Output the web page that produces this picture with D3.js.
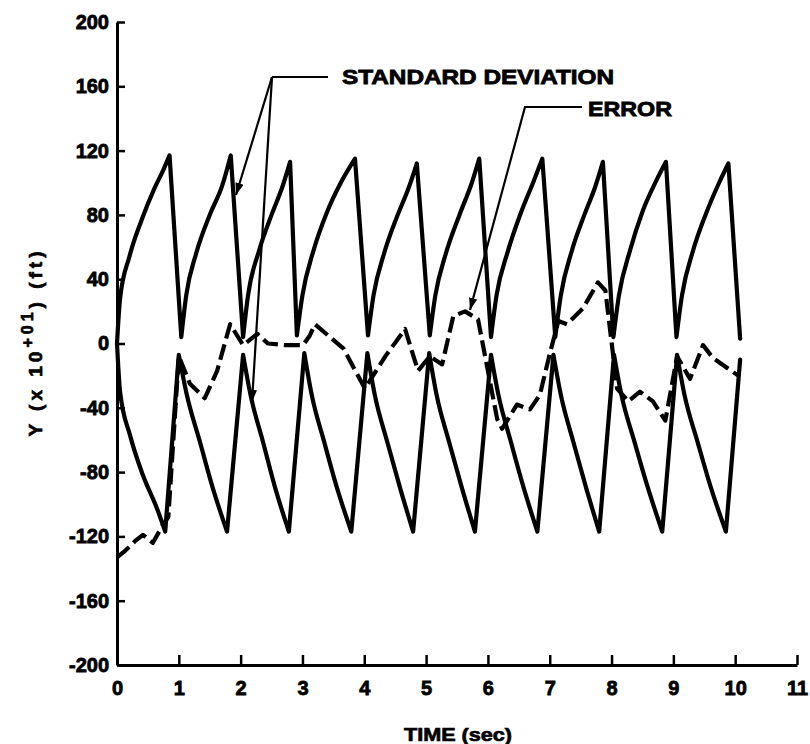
<!DOCTYPE html>
<html>
<head>
<meta charset="utf-8">
<script src="https://cdn.jsdelivr.net/npm/d3@7"></script>
<style>
  html, body { margin: 0; padding: 0; background: #fff; }
  svg { display: block; }
  text { font-family: "Liberation Sans", Arial, sans-serif; font-weight: bold; fill: #000; }
</style>
</head>
<body>
<svg id="chart" width="810" height="744"></svg>
<script>
// ---- data ----
const xTicks = [0, 1, 2, 3, 4, 5, 6, 7, 8, 9, 10, 11];
const yTicks = [-200, -160, -120, -80, -40, 0, 40, 80, 120, 160, 200];

const sdUpperT = [0.00,0.05,0.20,0.40,0.60,0.75,0.85, 1.04,1.12,1.28,1.50,1.70,1.84, 2.04,2.12,2.30,2.50,2.68,2.80,
  2.91,3.00,3.18,3.40,3.62,3.85, 4.06,4.15,4.32,4.52,4.72,4.85, 5.06,5.15,5.32,5.54,5.74,5.86,
  6.05,6.14,6.32,6.54,6.74,6.88, 7.09,7.18,7.36,7.56,7.74,7.86, 8.03,8.12,8.30,8.50,8.72,8.88,
  9.05,9.14,9.32,9.52,9.74,9.89, 10.08];
const sdUpperV = [0,28,54,77,96,108,117, 4,30,56,80,98,117, 4,30,58,80,98,113,
  5,30,58,82,100,115, 5,30,56,78,97,112, 5,30,56,80,100,115,
  4,30,57,82,101,115, 4,30,58,80,98,113, 4,30,58,82,101,113,
  4,30,58,80,100,112, 3];

const sdLowerT = [0.00,0.05,0.21,0.42,0.65,0.78, 1.00,1.13,1.34,1.55,1.78, 2.04,2.16,2.36,2.56,2.78,
  3.03,3.15,3.35,3.56,3.79, 4.05,4.17,4.37,4.58,4.79, 5.05,5.17,5.37,5.58,5.79,
  6.05,6.17,6.37,6.58,6.80, 7.06,7.18,7.38,7.59,7.80, 8.04,8.16,8.37,8.59,8.82,
  9.06,9.18,9.39,9.61,9.85, 10.08];
const sdLowerV = [0,-30,-57,-82,-103,-117, -7,-32,-61,-90,-117, -7,-32,-61,-90,-117,
  -6,-32,-61,-90,-117, -6,-32,-61,-90,-117, -6,-32,-61,-90,-117,
  -7,-32,-61,-90,-117, -7,-32,-61,-90,-117, -7,-32,-61,-90,-117,
  -7,-32,-61,-90,-117, -10];

const errT = [0.00,0.13,0.29,0.42,0.58,0.74,0.83, 1.00,1.18,1.42,1.62,1.83,2.04,2.27,2.44,2.72,3.01,3.12,3.20,
  3.66,4.01,4.34,4.66,4.87,5.06,5.26,5.44,5.63,5.84, 6.15,6.23,6.47,6.68,6.84,7.01,7.14,7.28,7.54,7.78,7.90,
  8.09,8.27,8.46,8.67,8.87,9.06,9.27,9.48,9.64,10.05];
const errV = [-133,-129,-123,-119,-124,-113,-108, -8,-25,-34,-17,12,-1,6,0,-1,-1,5,12,
  -3,-28,-8,9,-17,-8,-13,17,20,15, -47,-53,-38,-41,-32,-5,14,12,22,38,33,
  -28,-36,-30,-36,-48,-8,-22,-1,-9,-20];

const sdLabel = "STANDARD DEVIATION";
const errLabel = "ERROR";

// ---- drawing ----
const svg = d3.select("#chart");
const x = d3.scaleLinear().domain([0, 11]).range([117, 797]);
const y = d3.scaleLinear().domain([-200, 200]).range([665, 22]);

// axes
const yAxis = d3.axisLeft(y).tickValues(yTicks).tickFormat(d => String(d))
  .tickSizeInner(-8).tickSizeOuter(0).tickPadding(8);
const gy = svg.append("g").attr("transform", `translate(${x(0)},0)`).call(yAxis);
const xAxis = d3.axisBottom(x).tickValues(xTicks).tickFormat(d => String(d))
  .tickSizeInner(-10).tickSizeOuter(0).tickPadding(16);
const gx = svg.append("g").attr("transform", `translate(0,${y(-200)})`).call(xAxis);

[gx, gy].forEach(g => {
  g.select(".domain").attr("stroke", "#000").attr("stroke-width", 3);
  g.selectAll(".tick line").attr("stroke", "#000").attr("stroke-width", 2.5);
  g.selectAll(".tick text")
    .style("font-family", "'Liberation Sans', Arial, sans-serif")
    .style("font-weight", "bold")
    .style("font-size", "20px")
    .attr("fill", "#000")
    .attr("stroke", "#000").attr("stroke-width", 0.8);
});

// lines: smooth arcs between the sharp resets, joined by straight drops
const lineSmooth = d3.line().x(d => x(d[0])).y(d => y(d[1])).curve(d3.curveMonotoneX);
const lineLin = d3.line().x(d => x(d[0])).y(d => y(d[1]));

function sawPath(pts) {
  const runs = [[pts[0]]];
  for (let i = 1; i < pts.length; i++) {
    if (Math.abs(pts[i][1] - pts[i - 1][1]) > 60) runs.push([]);
    runs[runs.length - 1].push(pts[i]);
  }
  return runs.map((r, i) => {
    const s = r.length > 1 ? lineSmooth(r) : `M${x(r[0][0])},${y(r[0][1])}`;
    return i === 0 ? s : "L" + s.slice(1);
  }).join("");
}

const up = sdUpperT.map((t, i) => [t, sdUpperV[i]]);
const lo = sdLowerT.map((t, i) => [t, sdLowerV[i]]);
const er = errT.map((t, i) => [t, errV[i]]);

[up, lo].forEach(s => svg.append("path").attr("d", sawPath(s)).attr("fill", "none")
  .attr("stroke", "#000").attr("stroke-width", 4.2).attr("stroke-linejoin", "round").attr("stroke-linecap", "round"));
svg.append("path").attr("d", lineLin(er)).attr("fill", "none")
  .attr("stroke", "#000").attr("stroke-width", 4.2).attr("stroke-dasharray", "16,6")
  .attr("stroke-linejoin", "round");

// arrowhead marker
const defs = svg.append("defs");
defs.append("marker").attr("id", "arr").attr("viewBox", "0 0 10 10")
  .attr("refX", 10).attr("refY", 5).attr("markerWidth", 5.5).attr("markerHeight", 5.5)
  .attr("markerUnits", "strokeWidth").attr("orient", "auto")
  .append("path").attr("d", "M0,1.5 L10,5 L0,8.5 Z").attr("fill", "#000");

// leader lines
const sdJoint = [x.invert(272), y.invert(77)];
const sdEnd = [x.invert(328), y.invert(77)];
const sdArrow1 = [x.invert(236), y.invert(195)];
const sdArrow2 = [x.invert(252), y.invert(402)];
const erJoint = [x.invert(525), y.invert(107)];
const erEnd = [x.invert(582), y.invert(107)];
const erArrow = [x.invert(470), y.invert(310)];

const leader = (pts, arrow) => svg.append("path").attr("d", lineLin(pts)).attr("fill", "none")
  .attr("stroke", "#000").attr("stroke-width", 2.2)
  .attr("marker-end", arrow ? "url(#arr)" : null);
leader([sdEnd, sdJoint], false);
leader([sdJoint, sdArrow1], true);
leader([sdJoint, sdArrow2], true);
leader([erEnd, erJoint, erArrow], true);

// annotation labels
svg.append("text").attr("x", 342).attr("y", 84).style("font-size", "20px")
  .attr("stroke", "#000").attr("stroke-width", 0.8)
  .attr("textLength", 272).attr("lengthAdjust", "spacingAndGlyphs").text(sdLabel);
svg.append("text").attr("x", 588).attr("y", 116).style("font-size", "20px")
  .attr("stroke", "#000").attr("stroke-width", 0.8)
  .attr("textLength", 84).attr("lengthAdjust", "spacingAndGlyphs").text(errLabel);

// axis titles
svg.append("text").attr("x", 404).attr("y", 741).style("font-size", "19px")
  .attr("stroke", "#000").attr("stroke-width", 0.7)
  .attr("textLength", 108).attr("lengthAdjust", "spacingAndGlyphs").text("TIME (sec)");

const yl = svg.append("text").attr("transform", "translate(42,342) rotate(-90)")
  .attr("text-anchor", "middle").style("font-size", "19px").style("letter-spacing", "4px")
  .attr("stroke", "#000").attr("stroke-width", 0.7);
yl.append("tspan").text("Y (x 10");
yl.append("tspan").attr("dy", -9).style("font-size", "16px").text("+01");
yl.append("tspan").attr("dy", 9).text(") (ft)");
</script>
</body>
</html>
